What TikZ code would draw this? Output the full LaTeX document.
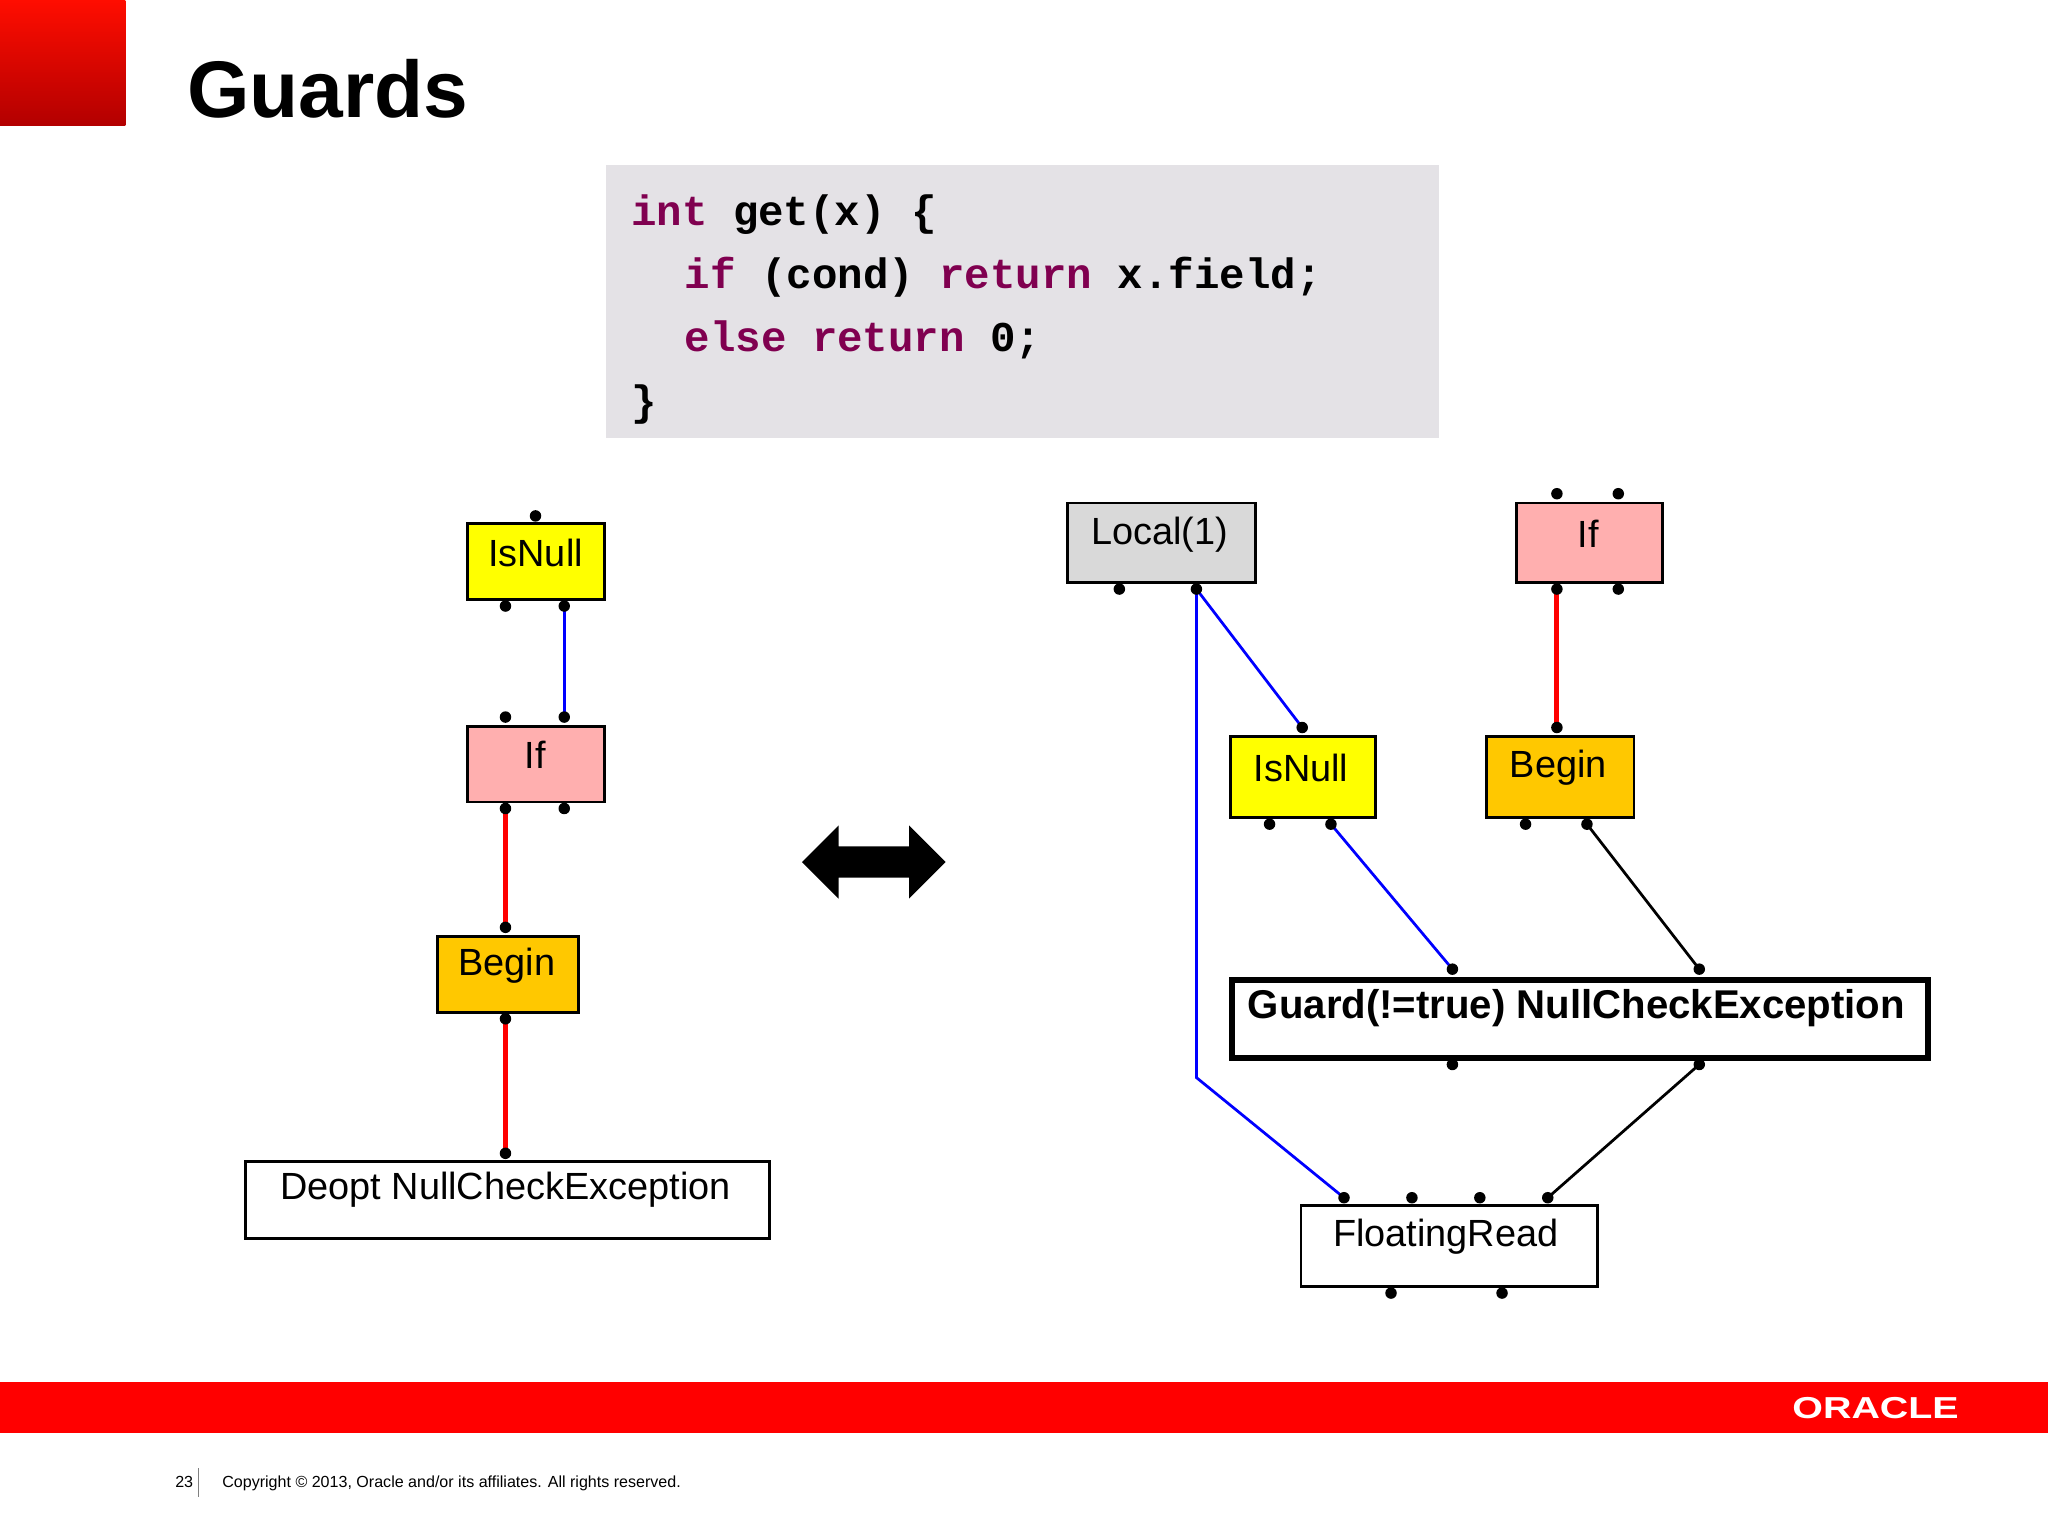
\documentclass[tikz,border=0pt]{standalone}
\usepackage{fontspec}
\setmainfont{Liberation Sans}
\newfontfamily\codef{Liberation Mono}
\begin{document}
\begin{tikzpicture}[x=0.02cm,y=-0.02cm,
  box/.style={draw=black,line width=1.2pt,anchor=north west,inner sep=0pt,font=\fontsize{16}{18}\selectfont},
  dot/.style={circle,fill=black,inner sep=0pt,minimum size=5pt},
  bl/.style={blue,line width=1.2pt},
  rd/.style={red,line width=2.2pt},
  bk/.style={black,line width=1.2pt},
  lbl/.style={font=\fontsize{16.5}{18}\selectfont},
]
\definecolor{kwc}{RGB}{128,0,80}
\definecolor{codebg}{RGB}{228,226,230}
\definecolor{yel}{RGB}{255,255,0}
\definecolor{pnk}{RGB}{255,175,175}
\definecolor{org}{RGB}{255,200,0}
\definecolor{gry}{RGB}{217,217,217}
\useasboundingbox (0,0) rectangle (1568,1176);
\shade[top color=red!90!orange,bottom color=red!70!black] (0,0) rectangle (96,96);
\node[anchor=base west,font=\fontsize{35}{40}\selectfont\bfseries] (title) at (137,90) {Guards};
% code
\fill[codebg] (464,126) rectangle (1102,335);
\begin{scope}[every node/.style={anchor=base west,font=\codef\bfseries\fontsize{18.5}{20}\selectfont}]
\node (c1) at (477,173) {\textcolor{kwc}{int} get(x) \{};
\node (c2) at (518,221) {\textcolor{kwc}{if} (cond) \textcolor{kwc}{return} x.field;};
\node (c3) at (518,269) {\textcolor{kwc}{else return} 0;};
\node (c4) at (477,318) {\}};
\end{scope}
% left graph
\node[box,fill=yel,minimum width=105*0.02cm,minimum height=58*0.02cm] (lisn) at (357,400) {};
\node[lbl] at (410,423) (lisnt) {IsNull};
\node[box,fill=pnk,minimum width=105*0.02cm,minimum height=58*0.02cm] (lif) at (357,555) {};
\node[lbl] at (410,578) (lift) {If};
\node[box,fill=org,minimum width=108*0.02cm,minimum height=58*0.02cm] (lbeg) at (334,716) {};
\node[lbl] at (388,739) (lbegt) {Begin};
\node[box,fill=white,minimum width=401*0.02cm,minimum height=59*0.02cm] (dep) at (187,888) {};
\node[lbl] at (387,911) (dept) {Deopt NullCheckException};
\coordinate (a1) at (432,464); \coordinate (a2) at (432,549);
\coordinate (a3) at (387,619); \coordinate (a4) at (387,710);
\coordinate (a5) at (387,780); \coordinate (a6) at (387,883);
\draw[bl] (a1)--(a2);
\draw[rd] (a3)--(a4);
\draw[rd] (a5)--(a6);
\foreach \p in {(410,395),(387,464),(432,464),(387,549),(432,549),(387,619),(432,619),(387,710),(387,780),(387,883)} \node[dot] at \p {};
% double arrow
\fill (614,660) -- (642,632) -- (642,648) -- (696,648) -- (696,632) -- (724,660) -- (696,688) -- (696,672) -- (642,672) -- (642,688) -- cycle;
% right graph
\node[box,fill=gry,minimum width=144*0.02cm,minimum height=61*0.02cm] (loc) at (816,384) {};
\node[lbl] at (888,409) (loct) {Local(1)};
\node[box,fill=pnk,minimum width=112*0.02cm,minimum height=61*0.02cm] (rif) at (1160,384) {};
\node[lbl] at (1216,409) (rift) {If};
\node[box,fill=yel,minimum width=111*0.02cm,minimum height=62*0.02cm] (risn) at (941,563) {};
\node[lbl] at (996,588) (risnt) {IsNull};
\node[box,fill=org,minimum width=113*0.02cm,minimum height=62*0.02cm] (rbeg) at (1137,563) {};
\node[lbl] at (1193,588) (rbegt) {Begin};
\node[box,fill=white,line width=2.5pt,minimum width=533*0.02cm,minimum height=60*0.02cm] (grd) at (941,748) {};
\node at (1207,772) [font=\fontsize{17.5}{18}\selectfont\bfseries] (grdt) {Guard(!=true) NullCheckException};
\node[box,fill=white,minimum width=227*0.02cm,minimum height=62*0.02cm] (fr) at (995,922) {};
\node[lbl] at (1107,947) (frt) {FloatingRead};
\coordinate (b1) at (916,451); \coordinate (b2) at (997,557);
\coordinate (b3) at (916,825); \coordinate (b4) at (1029,917);
\coordinate (b5) at (1192,451); \coordinate (b6) at (1192,557);
\coordinate (b7) at (1019,631); \coordinate (b8) at (1112,742);
\coordinate (b9) at (1215,631); \coordinate (b10) at (1301,742);
\coordinate (b11) at (1301,815); \coordinate (b12) at (1185,917);
\draw[bl] (b1)--(b2);
\draw[bl] (b1)--(b3)--(b4);
\draw[rd] (b5)--(b6);
\draw[bl] (b7)--(b8);
\draw[bk] (b9)--(b10);
\draw[bk] (b11)--(b12);
\foreach \p in {(857,451),(916,451),(1192,378),(1239,378),(1192,451),(1239,451),(997,557),(972,631),(1019,631),(1192,557),(1168,631),(1215,631),(1112,742),(1301,742),(1112,815),(1301,815),(1029,917),(1081,917),(1133,917),(1185,917),(1065,990),(1150,990)} \node[dot] at \p {};
% footer
\fill[red] (0,1058) rectangle (1568,1097);
\node[white,font=\fontsize{12}{14}\selectfont\bfseries,scale=1.1,xscale=1.3] (orc) at (1436,1078) {ORACLE};
\node[anchor=base west,font=\fontsize{7}{8}\selectfont] (pg) at (128,1139) {23};
\draw[gray,line width=0.6pt] (152,1124) -- (152,1146);
\node[anchor=base west,font=\fontsize{7}{8}\selectfont] (cp) at (164,1139) {Copyright © 2013, Oracle and/or its affiliates. All rights reserved.};
\end{tikzpicture}
\end{document}
